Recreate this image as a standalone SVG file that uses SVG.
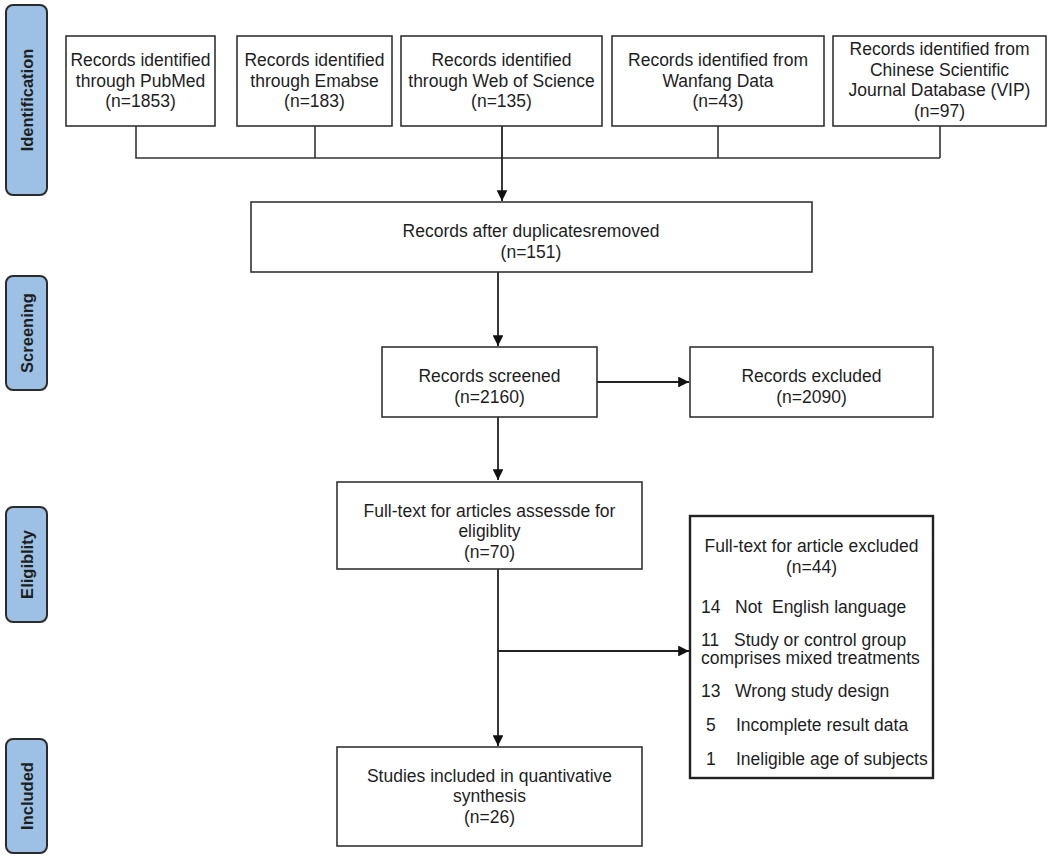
<svg xmlns="http://www.w3.org/2000/svg" width="1049" height="859" viewBox="0 0 1049 859">
<style>
.bg{fill:#ffffff}
.box{fill:#ffffff;stroke:#333333;stroke-width:1.6}
.box2{fill:#ffffff;stroke:#222222;stroke-width:2.4}
.stage{fill:#9dc1e4;stroke:#2b2b2b;stroke-width:2}
.t{font-family:"Liberation Sans",Arial,sans-serif;font-size:17.5px;fill:#1e1e1e;text-anchor:middle}
.tl{font-family:"Liberation Sans",Arial,sans-serif;font-size:17.5px;fill:#1e1e1e}
.st{font-family:"Liberation Sans",Arial,sans-serif;font-size:16.5px;font-weight:bold;fill:#1e1e1e;text-anchor:middle}
.ln{fill:none;stroke:#333333;stroke-width:1.6}
.ar{fill:none;stroke:#222222;stroke-width:1.8;marker-end:url(#ah)}
</style>
<defs>
<marker id="ah" viewBox="0 0 10 10" refX="10" refY="5" markerWidth="6" markerHeight="6" markerUnits="strokeWidth" orient="auto">
<path d="M0,0 L10,5 L0,10 z" fill="#111111"/>
</marker>
</defs>
<rect class="bg" x="0" y="0" width="1049" height="859"/>

<g id="stage-identification">
<rect class="stage" x="6" y="5" width="41" height="190" rx="7"/>
<text class="st" transform="translate(32.5,100) rotate(-90)">Identification</text>
</g>
<g id="stage-screening">
<rect class="stage" x="6" y="276" width="41" height="114" rx="7"/>
<text class="st" transform="translate(32.5,333) rotate(-90)">Screening</text>
</g>
<g id="stage-eligibility">
<rect class="stage" x="6" y="507" width="41" height="115" rx="7"/>
<text class="st" transform="translate(32.5,564.5) rotate(-90)">Eligiblity</text>
</g>
<g id="stage-included">
<rect class="stage" x="6" y="739" width="41" height="114" rx="7"/>
<text class="st" transform="translate(32.5,796) rotate(-90)">Included</text>
</g>

<g id="connectors">
<polyline class="ln" points="136,126 136,158 940,158"/>
<line class="ln" x1="315" y1="126" x2="315" y2="158"/>
<line class="ln" x1="718" y1="126" x2="718" y2="158"/>
<line class="ln" x1="940" y1="126" x2="940" y2="158"/>
<line class="ar" x1="502" y1="126" x2="502" y2="201"/>
<line class="ar" x1="498" y1="272" x2="498" y2="346"/>
<line class="ar" x1="597" y1="382" x2="689" y2="382"/>
<line class="ar" x1="498" y1="417" x2="498" y2="480"/>
<line class="ar" x1="498" y1="569" x2="498" y2="746"/>
<line class="ar" x1="498" y1="651" x2="689" y2="651"/>
</g>

<g id="pubmed">
<rect class="box" x="66" y="36" width="149" height="90"/>
<text class="t" x="140.5" y="66">Records identified</text>
<text class="t" x="140.5" y="87">through PubMed</text>
<text class="t" x="140.5" y="107">(n=1853)</text>
</g>
<g id="embase">
<rect class="box" x="237" y="36" width="155" height="90"/>
<text class="t" x="314.5" y="66">Records identified</text>
<text class="t" x="314.5" y="87">through Emabse</text>
<text class="t" x="314.5" y="107">(n=183)</text>
</g>
<g id="wos">
<rect class="box" x="401" y="36" width="201" height="90"/>
<text class="t" x="501.5" y="66">Records identified</text>
<text class="t" x="501.5" y="87">through Web of Science</text>
<text class="t" x="501.5" y="107">(n=135)</text>
</g>
<g id="wanfang">
<rect class="box" x="612" y="36" width="212" height="90"/>
<text class="t" x="718" y="66">Records identified from</text>
<text class="t" x="718" y="87">Wanfang Data</text>
<text class="t" x="718" y="107">(n=43)</text>
</g>
<g id="vip">
<rect class="box" x="833" y="36" width="213" height="90"/>
<text class="t" x="939.5" y="55">Records identified from</text>
<text class="t" x="939.5" y="76">Chinese Scientific</text>
<text class="t" x="939.5" y="96">Journal Database (VIP)</text>
<text class="t" x="939.5" y="117">(n=97)</text>
</g>

<g id="after-duplicates">
<rect class="box" x="251" y="202" width="561" height="70"/>
<text class="t" x="531" y="237">Records after duplicatesremoved</text>
<text class="t" x="531" y="258">(n=151)</text>
</g>
<g id="screened">
<rect class="box" x="382" y="347" width="215" height="70"/>
<text class="t" x="489.5" y="382">Records screened</text>
<text class="t" x="489.5" y="403">(n=2160)</text>
</g>
<g id="excluded">
<rect class="box" x="690" y="347" width="243" height="70"/>
<text class="t" x="811.5" y="382">Records excluded</text>
<text class="t" x="811.5" y="403">(n=2090)</text>
</g>
<g id="fulltext">
<rect class="box" x="337" y="482" width="305" height="87"/>
<text class="t" x="489.5" y="517">Full-text for articles assessde for</text>
<text class="t" x="489.5" y="537">eligiblity</text>
<text class="t" x="489.5" y="558">(n=70)</text>
</g>
<g id="fulltext-excluded">
<rect class="box2" x="690" y="516" width="243" height="262"/>
<text class="t" x="811.5" y="552">Full-text for article excluded</text>
<text class="t" x="811.5" y="573">(n=44)</text>
<text class="tl" x="701" y="613">14</text>
<text class="tl" x="735" y="613">Not&#160; English language</text>
<text class="tl" x="701" y="646">11</text>
<text class="tl" x="734" y="646">Study or control group</text>
<text class="tl" x="701" y="664">comprises mixed treatments</text>
<text class="tl" x="701" y="697">13</text>
<text class="tl" x="735" y="697">Wrong study design</text>
<text class="tl" x="706" y="731">5</text>
<text class="tl" x="736" y="731">Incomplete result data</text>
<text class="tl" x="706" y="765">1</text>
<text class="tl" x="736" y="765">Ineligible age of subjects</text>
</g>
<g id="included">
<rect class="box" x="337" y="747" width="305" height="99"/>
<text class="t" x="489.5" y="782">Studies included in quantivative</text>
<text class="t" x="489.5" y="802">synthesis</text>
<text class="t" x="489.5" y="823">(n=26)</text>
</g>
</svg>
